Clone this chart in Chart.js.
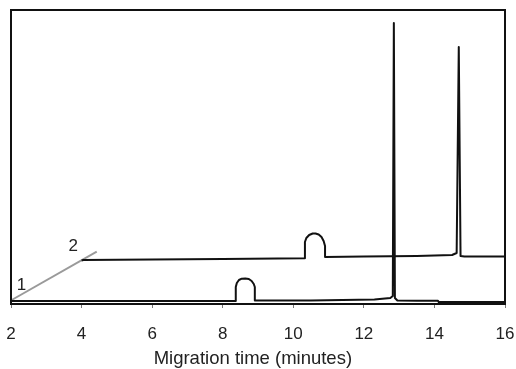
<!DOCTYPE html>
<html lang="en">
<head>
    <meta charset="UTF-8">
    <title>Migration time electropherogram</title>
    <script src="https://cdn.jsdelivr.net/npm/chart.js"></script>
    <style>
        html, body {
            margin: 0;
            padding: 0;
            background: #ffffff;
        }
        .chart-container {
            width: 516px;
            height: 369px;
        }
    </style>
</head>
<body>
    <div class="chart-container">
        <canvas id="grafico"></canvas>
    </div>

    <script>
        // trace 1 (lower electropherogram)
        const time1 = [2.0, 8.37, 8.37, 8.40, 8.46, 8.54, 8.64, 8.74, 8.82, 8.88, 8.91, 8.91, 10.5, 12.3, 12.75, 12.82, 12.85, 12.88, 12.95, 13.5, 14.1, 14.12, 16.0];
        const signal1 = [3, 3, 17, 21, 24, 25.3, 25.5, 25, 23, 20, 17, 3.5, 3.5, 4.5, 6, 8, 281, 6, 3.5, 3.3, 3.3, 2, 2];

        // trace 2 (upper electropherogram, offset)
        const time2 = [4.0, 4.05, 6.0, 8.0, 10.33, 10.33, 10.37, 10.45, 10.55, 10.63, 10.72, 10.8, 10.86, 10.9, 10.9, 12.0, 13.5, 14.5, 14.63, 14.69, 14.74, 14.85, 16.0];
        const signal2 = [43.5, 44, 44.5, 45, 45.7, 62, 66, 69, 70.5, 70.5, 69.5, 67, 63, 58, 47, 47.5, 48, 49, 51, 257, 48, 47.5, 47.5];

        // grey offset guide line and its labels
        const guideX = [2.02, 4.43];
        const guideY = [4, 52.3];
        const labelText = ['1', '2'];
        const labelX = [2.30, 3.76];
        const labelY = [19, 58];

        const xTicks = [2, 4, 6, 8, 10, 12, 14, 16];

        const pontos = (xs, ys) => xs.map((x, i) => ({ x: x, y: ys[i] }));

        // frame round the plot + "1" / "2" labels
        const molduraPlugin = {
            id: 'moldura',
            afterDatasetsDraw(chart) {
                const { ctx, chartArea: a, scales } = chart;
                ctx.save();
                ctx.strokeStyle = '#111';
                ctx.lineWidth = 2;
                ctx.strokeRect(a.left, a.top, a.right - a.left, a.bottom - a.top);
                ctx.fillStyle = '#222';
                ctx.font = '17px "Liberation Sans", Arial, sans-serif';
                ctx.textAlign = 'center';
                ctx.textBaseline = 'middle';
                labelText.forEach((t, i) => {
                    ctx.fillText(t, scales.x.getPixelForValue(labelX[i]), scales.y.getPixelForValue(labelY[i]));
                });
                ctx.restore();
            }
        };

        const ctx = document.getElementById('grafico').getContext('2d');
        const chart = new Chart(ctx, {
            type: 'line',
            data: {
                datasets: [
                    {
                        label: '1',
                        data: pontos(time1, signal1),
                        borderColor: '#111',
                        borderWidth: 2,
                        pointRadius: 0,
                        tension: 0
                    },
                    {
                        label: '2',
                        data: pontos(time2, signal2),
                        borderColor: '#111',
                        borderWidth: 2,
                        pointRadius: 0,
                        tension: 0
                    },
                    {
                        label: 'guide',
                        data: pontos(guideX, guideY),
                        borderColor: '#9a9a9a',
                        borderWidth: 2,
                        pointRadius: 0,
                        tension: 0
                    }
                ]
            },
            options: {
                responsive: true,
                maintainAspectRatio: false,
                animation: false,
                borderJoinStyle: 'round',
                layout: {
                    padding: { left: 11, right: 11, top: 10, bottom: 0 }
                },
                plugins: {
                    legend: { display: false },
                    tooltip: { enabled: false }
                },
                scales: {
                    x: {
                        type: 'linear',
                        min: 2,
                        max: 16,
                        afterBuildTicks: (scale) => {
                            scale.ticks = xTicks.map(v => ({ value: v }));
                        },
                        afterFit: (scale) => {
                            scale.height = 65;
                            scale.paddingLeft = 0;
                            scale.paddingRight = 0;
                        },
                        grid: {
                            drawOnChartArea: false,
                            tickLength: 4,
                            color: '#777'
                        },
                        border: { display: false },
                        ticks: {
                            color: '#222',
                            padding: 16,
                            maxRotation: 0,
                            font: { family: '"Liberation Sans", Arial, sans-serif', size: 17 }
                        },
                        title: {
                            display: true,
                            text: 'Migration time (minutes)  ',
                            color: '#222',
                            padding: { top: 4.2, bottom: 0 },
                            font: { family: '"Liberation Sans", Arial, sans-serif', size: 18.5, lineHeight: 1.1 }
                        }
                    },
                    y: {
                        display: false,
                        min: 0,
                        max: 294
                    }
                }
            },
            plugins: [molduraPlugin]
        });
    </script>
</body>
</html>
